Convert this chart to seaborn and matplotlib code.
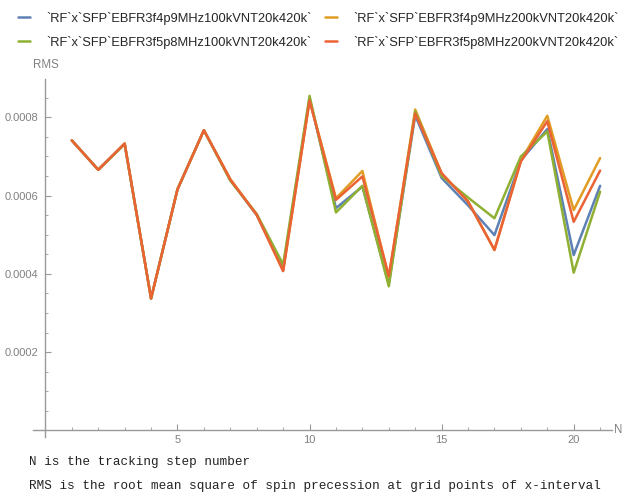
import numpy as np
import pandas as pd
import matplotlib
matplotlib.use("Agg")
import matplotlib.pyplot as plt
from matplotlib.ticker import MultipleLocator, FormatStrFormatter
import seaborn as sns

# номера шагов
steps = list(range(1, 22))

labels = [
    "`RF`x`SFP`EBFR3f4p9MHz100kVNT20k420k`",
    "`RF`x`SFP`EBFR3f4p9MHz200kVNT20k420k`",
    "`RF`x`SFP`EBFR3f5p8MHz100kVNT20k420k`",
    "`RF`x`SFP`EBFR3f5p8MHz200kVNT20k420k`",
]

rms_f4p9_100k = [0.000741, 0.000666, 0.000733, 0.000337, 0.000616, 0.000767, 0.000640, 0.000550,
                 0.000415, 0.000848, 0.000568, 0.000623, 0.000375, 0.000805, 0.000645, 0.000575,
                 0.000499, 0.000690, 0.000770, 0.000448, 0.000625]
rms_f4p9_200k = [0.000741, 0.000666, 0.000733, 0.000337, 0.000616, 0.000767, 0.000642, 0.000551,
                 0.000408, 0.000844, 0.000593, 0.000663, 0.000390, 0.000820, 0.000657, 0.000585,
                 0.000461, 0.000690, 0.000804, 0.000563, 0.000696]
rms_f5p8_100k = [0.000741, 0.000666, 0.000731, 0.000337, 0.000616, 0.000767, 0.000638, 0.000553,
                 0.000424, 0.000855, 0.000557, 0.000625, 0.000368, 0.000815, 0.000650, 0.000595,
                 0.000542, 0.000700, 0.000764, 0.000403, 0.000610]
rms_f5p8_200k = [0.000741, 0.000666, 0.000733, 0.000337, 0.000616, 0.000767, 0.000641, 0.000551,
                 0.000407, 0.000843, 0.000589, 0.000649, 0.000395, 0.000810, 0.000657, 0.000585,
                 0.000461, 0.000687, 0.000790, 0.000533, 0.000664]

colors = ["#5E81B5", "#E19C24", "#8FB032", "#EB6235"]

frames = []
for lab, vals in zip(labels, [rms_f4p9_100k, rms_f4p9_200k, rms_f5p8_100k, rms_f5p8_200k]):
    frames.append(pd.DataFrame({"N": steps, "RMS": vals, "series": lab}))
df = pd.concat(frames, ignore_index=True)

sns.set_style("white")
plt.rcParams['font.family'] = ['Liberation Sans', 'DejaVu Sans']

W, H = 623, 493
fig = plt.figure(figsize=(W / 100, H / 100), dpi=100)
# оси в пикселях: слева 33, справа 612, сверху 79, снизу 437
ax = fig.add_axes([33 / W, 1 - 437 / H, (612 - 33) / W, (437 - 79) / H])

sns.lineplot(data=df, x="N", y="RMS", hue="series", hue_order=labels, palette=colors,
             linewidth=1.8, ax=ax, legend=False)

ax.set_xlim(-0.47, 21.45)
ax.set_ylim(-0.000017, 0.000898)

grey = "#999999"
for side in ["top", "right"]:
    ax.spines[side].set_visible(False)
ax.spines["left"].set_position(("data", 0))
ax.spines["bottom"].set_position(("data", 0))
for side in ["left", "bottom"]:
    ax.spines[side].set_color(grey)
    ax.spines[side].set_linewidth(1.0)

ax.xaxis.set_minor_locator(MultipleLocator(1))
ax.yaxis.set_minor_locator(MultipleLocator(0.00005))
ax.yaxis.set_major_formatter(FormatStrFormatter("%.4f"))
ax.set_xticks([5, 10, 15, 20])
ax.set_yticks([0.0002, 0.0004, 0.0006, 0.0008])
ax.tick_params(axis="both", which="major", direction="in", length=4, width=0.8,
               color=grey, labelcolor="#808080", labelsize=8)
ax.tick_params(axis="y", which="major", pad=5)
ax.tick_params(axis="both", which="minor", direction="in", length=2, width=0.6, color=grey)
ax.tick_params(axis="x", which="both", bottom=True)
ax.tick_params(axis="y", which="both", left=True)
ax.set_xlabel("")
ax.set_ylabel("")

fig.text(33 / W, 1 - 65 / H, "RMS", color="#808080", fontsize=8.3, va="center", ha="left")
fig.text(614 / W, 1 - 430 / H, "N", color="#808080", fontsize=8.3, va="center", ha="left")

# легенда: две колонки, порядок как на картинке
handles = [plt.Line2D([], [], color=c, lw=1.8) for c in colors]
order = [0, 2, 1, 3]
fig.legend([handles[i] for i in order], [labels[i] for i in order], ncol=2,
           loc="upper left", bbox_to_anchor=(18 / W, 1 - 12 / H), frameon=False,
           fontsize=9.3, handlelength=0.95, handletextpad=1.25, columnspacing=1.0,
           labelspacing=0.85, borderpad=0.0, borderaxespad=0.0)

fig.text(29 / W, 1 - 462 / H, "N is the tracking step number", family="Liberation Mono",
         fontsize=9.1, va="center", ha="left", color="#222222")
fig.text(29 / W, 1 - 486 / H,
         "RMS is the root mean square of spin precession at grid points of x-interval",
         family="Liberation Mono", fontsize=9.1, va="center", ha="left", color="#222222")

fig.savefig("out.png", dpi=100)
